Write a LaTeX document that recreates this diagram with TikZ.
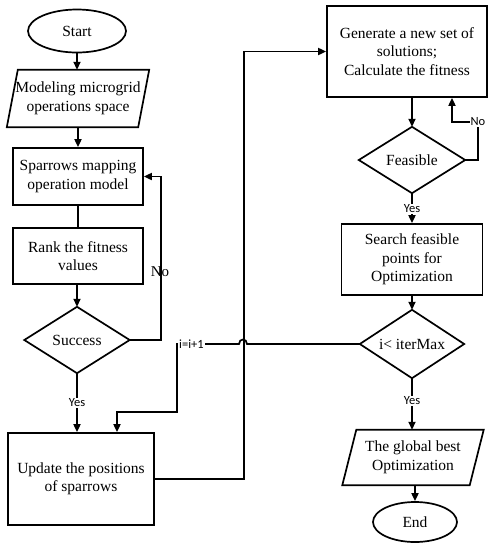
\documentclass[tikz,border=0pt]{standalone}
\usepackage{fontspec}
\setmainfont{Liberation Serif}
\newfontfamily\lblfont{Carlito}
\usetikzlibrary{arrows.meta,shapes.geometric}
\begin{document}
\begin{tikzpicture}[x=1pt,y=-1pt,
  every node/.style={font=\fontsize{15.5}{18.5}\selectfont, align=center, inner sep=0pt},
  procbox/.style={draw, line width=1.7pt, rectangle},
  term/.style={draw, line width=1.7pt, ellipse},
  hold/.style={rectangle},
  outline/.style={line width=1.7pt, line join=miter},
  conn/.style={line width=1.7pt},
  arr/.style={conn, -{Triangle[length=8pt,width=7pt]}},
  lbl/.style={font=\lblfont\fontsize{12.5}{14}\selectfont, fill=white, inner sep=1pt},
  serlbl/.style={font=\fontsize{15}{17}\selectfont},
]
\useasboundingbox (0,0) rectangle (495,550);

% left column
\node[term, minimum width=98pt, minimum height=43pt] (start) at (77,31) {Start};
\node[hold, minimum width=131pt, minimum height=57pt] (model) at (78,98.5) {Modeling microgrid\\operations space};
\draw[outline] ([xshift=5.5pt]model.north west) -- ([xshift=5.5pt]model.north east) -- ([xshift=-5.5pt]model.south east) -- ([xshift=-5.5pt]model.south west) -- cycle;
\node[procbox, minimum width=130pt, minimum height=57pt] (map) at (78,176.5) {Sparrows mapping\\operation model};
\node[procbox, minimum width=130pt, minimum height=56pt] (rank) at (78,256) {Rank the fitness\\values};
\node[hold, minimum width=105pt, minimum height=66pt] (succ) at (77,340) {Success};
\draw[outline] (succ.north) -- (succ.east) -- (succ.south) -- (succ.west) -- cycle;
\node[procbox, minimum width=146pt, minimum height=92pt] (upd) at (81,479) {Update the positions\\of sparrows};

% right column
\node[procbox, minimum width=160pt, minimum height=91pt] (gen) at (407,51.5) {Generate a new set of\\solutions;\\Calculate the fitness};
\node[hold, minimum width=106pt, minimum height=66pt] (feas) at (412,160) {Feasible};
\draw[outline] (feas.north) -- (feas.east) -- (feas.south) -- (feas.west) -- cycle;
\node[procbox, minimum width=141pt, minimum height=71pt] (search) at (412,259.5) {Search feasible\\points for\\Optimization};
\node[hold, minimum width=104pt, minimum height=68pt] (iter) at (412,344) {i< iterMax};
\draw[outline] (iter.north) -- (iter.east) -- (iter.south) -- (iter.west) -- cycle;
\node[hold, minimum width=127pt, minimum height=55pt] (glob) at (413,457.5) {The global best\\Optimization};
\draw[outline] ([xshift=7pt]glob.north west) -- ([xshift=7pt]glob.north east) -- ([xshift=-7pt]glob.south east) -- ([xshift=-7pt]glob.south west) -- cycle;
\node[term, minimum width=84pt, minimum height=40pt] (end) at (415,522) {End};

% connectors left
\draw[arr] (start.south) -- (start.south |- model.north);
\draw[arr] (model.south) -- (map.north);
\draw[conn] (map.south) -- (rank.north);
\draw[arr] (succ.north |- rank.south) -- (succ.north);
\draw[arr] (succ.east) -- ++(31,0) |- (map.east);
\node[serlbl] (nol) at (160,272) {No};
\draw[arr] (succ.south) -- (succ.south |- upd.north);
\node[lbl] (yesl) at (77,403) {Yes};
\draw[arr] (upd.east) -- ++(89,0) |- (gen.west);

% connectors right
\draw[arr] (feas.north |- gen.south) -- (feas.north);
\coordinate (nofb) at (452,122);
\draw[arr] (feas.east) -- (478,160) -- (478,122) -- (nofb) -- (nofb |- gen.south);
\node[lbl] (nor) at (478,122) {No};
\draw[arr] (feas.south) -- (search.north);
\node[lbl] (yes1) at (412,209) {Yes};
\draw[arr] (search.south) -- (iter.north);
\draw[arr] (iter.south) -- (iter.south |- glob.north);
\node[lbl] (yes2) at (412,401) {Yes};
\draw[arr] (end.north |- glob.south) -- (end.north);

% loop back
\coordinate (cj) at (117,412);
\draw[arr] (iter.west) -- (247,344) .. controls (247,338) and (239,338) .. (239,344) -- (177,344) -- (177,412) -- (cj) -- (cj |- upd.north);
\node[lbl, anchor=west] (inc) at (178,344) {i=i+1};
\end{tikzpicture}
\end{document}
